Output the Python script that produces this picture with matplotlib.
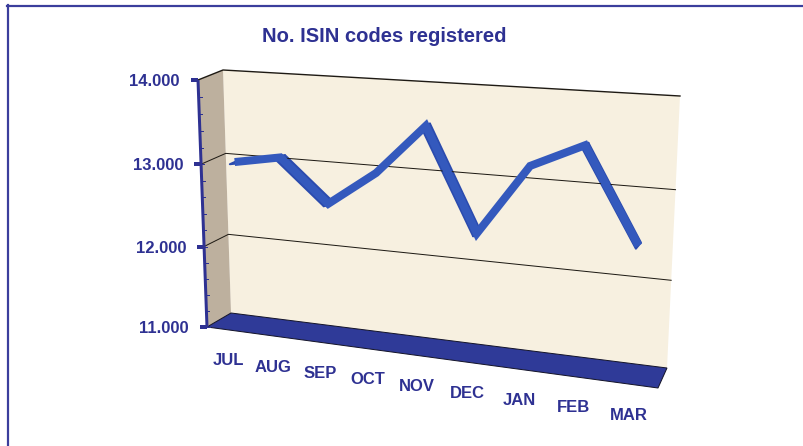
import numpy as np
import matplotlib
matplotlib.use("Agg")
from matplotlib import pyplot as plt
from matplotlib.patches import Polygon

# data
months = ["JUL", "AUG", "SEP", "OCT", "NOV", "DEC", "JAN", "FEB", "MAR"]
isin_codes = [12990, 13090, 12590, 13000, 13580, 12410, 13220, 13490, 12450]
y_ticks = [11000, 12000, 13000, 14000]
y_tick_labels = ["11.000", "12.000", "13.000", "14.000"]
y_min, y_max = 11000, 14000

navy = "#2E3192"
line_blue = "#3459BD"
plt.rcParams["font.family"] = ["Liberation Sans", "DejaVu Sans"]

# =========================
# perspective box (front plane w=0, back wall w=1), pixel corners
# =========================
n = len(months)
front_px = [(207, 327), (198, 80), (665.5, 108), (658, 388)]
back_px = [(231, 313), (223, 70), (680, 96), (667, 368)]
unit_sq = [(0, 0), (0, 1), (1, 1), (1, 0)]


def homography(src, dst):
    A, b = [], []
    for (x, y), (X, Y) in zip(src, dst):
        A.append([x, y, 1, 0, 0, 0, -X * x, -X * y])
        A.append([0, 0, 0, x, y, 1, -Y * x, -Y * y])
        b += [X, Y]
    h = np.linalg.solve(np.array(A, float), np.array(b, float))
    return np.append(h, 1).reshape(3, 3)


H_front = homography(unit_sq, front_px)
H_back = homography(unit_sq, back_px)


def project(u, v, w):
    u = np.atleast_1d(np.asarray(u, float)) / n
    v = (np.atleast_1d(np.asarray(v, float)) - y_min) / (y_max - y_min)
    pts = np.vstack([u, v, np.ones_like(u)])
    out = []
    for H in (H_front, H_back):
        p = H @ pts
        out.append(p[:2] / p[2])
    xy = (1 - w) * out[0] + w * out[1]
    return xy[0], xy[1]


fig = plt.figure(figsize=(8.04, 4.46), dpi=100)
ax = fig.add_axes([0, 0, 1, 1])
ax.set_xlim(0, 804)
ax.set_ylim(446, 0)
ax.axis("off")

PT = 72 / 100  # pixels -> points

# frame lines (left and top)
ax.plot([8, 8], [5, 446], color="#3B3E9C", lw=2.2 * PT)
ax.plot([7, 804], [6, 6], color="#3B3E9C", lw=2.2 * PT)

# back wall
bx, by = project([0, 0, n, n], [y_min, y_max, y_max, y_min], 1)
ax.add_patch(Polygon(np.c_[bx, by], closed=True, fc="#F7F0E0", ec="none"))

# side wall
sx = np.r_[project([0, 0], [y_min, y_max], 0)[0], project([0, 0], [y_max, y_min], 1)[0]]
sy = np.r_[project([0, 0], [y_min, y_max], 0)[1], project([0, 0], [y_max, y_min], 1)[1]]
ax.add_patch(Polygon(np.c_[sx, sy], closed=True, fc="#BDB09E", ec="none"))

# gridlines (side wall + back wall) and top edges
for v in y_ticks[1:]:
    gx = np.r_[project(0, v, 0)[0], project([0, n], [v, v], 1)[0]]
    gy = np.r_[project(0, v, 0)[1], project([0, n], [v, v], 1)[1]]
    lw = 1.4 if v == y_max else 1.0
    ax.plot(gx, gy, color="#1E1A14", lw=lw * PT)

# floor
fx = np.r_[project([0, n], [y_min, y_min], 0)[0], project([n, 0], [y_min, y_min], 1)[0]]
fy = np.r_[project([0, n], [y_min, y_min], 0)[1], project([n, 0], [y_min, y_min], 1)[1]]
ax.add_patch(Polygon(np.c_[fx, fy], closed=True, fc="#2F3A98", ec="#15152A", lw=1.0 * PT))

# series: ribbon for depth + thick line on top
pos = np.arange(n) + 0.5
fx0, fy0 = project(pos, isin_codes, 0.25)
bx1, by1 = project(pos, isin_codes, 0.65)
for i in range(n - 1):
    quad = [(fx0[i], fy0[i]), (fx0[i + 1], fy0[i + 1]),
            (bx1[i + 1], by1[i + 1]), (bx1[i], by1[i])]
    ax.add_patch(Polygon(quad, closed=True, fc="#2B4BAE", ec="#2B4BAE",
                         lw=2 * PT, joinstyle="round"))
lx_, ly_ = project(pos, isin_codes, 0.45)
ax.plot(lx_, ly_, color=line_blue, lw=8 * PT, solid_joinstyle="miter",
        solid_capstyle="butt")

# value axis
ax_x, ax_y = project([0, 0], [y_min, y_max], 0)
ax.plot(ax_x, ax_y, color=navy, lw=3 * PT, solid_capstyle="butt")
for v in range(y_min, y_max, 200):
    tx, ty = project(0, v, 0)
    ax.plot([tx[0], tx[0] + 3], [ty[0], ty[0]], color=navy, lw=1 * PT)
for v, lab in zip(y_ticks, y_tick_labels):
    tx, ty = project(0, v, 0)
    ax.plot([tx[0] - 7, tx[0]], [ty[0], ty[0]], color=navy, lw=4 * PT,
            solid_capstyle="butt")
    ax.text(tx[0] - 18, ty[0] + 1.5, lab, color=navy, fontsize=12,
            fontweight="bold", ha="right", va="center")

# category labels
lx, ly = project(pos, np.full(n, y_min), 0)
for x, y, m in zip(lx, ly, months):
    ax.text(x - 1, y + 31, m, color=navy, fontsize=12, fontweight="bold",
            ha="center", va="center")

ax.text(384, 37, "No. ISIN codes registered", color=navy, fontsize=14.5,
        fontweight="bold", ha="center", va="center")

fig.savefig("out.png", dpi=100)
